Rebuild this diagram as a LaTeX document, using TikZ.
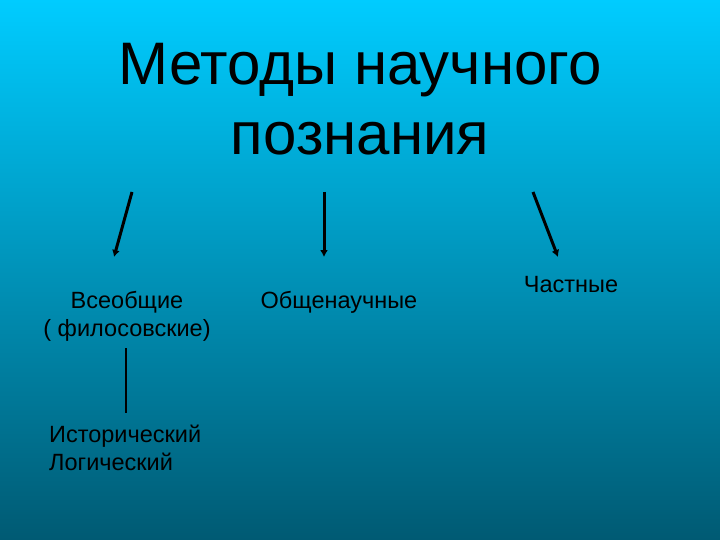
\documentclass[tikz,border=0pt]{standalone}
\usepackage{fontspec}
\setmainfont{Liberation Sans}
\usetikzlibrary{arrows.meta}

\definecolor{skytop}{RGB}{0,204,255}
\definecolor{seamid}{RGB}{0,160,200}
\definecolor{seabottom}{RGB}{0,90,115}

\begin{document}
\begin{tikzpicture}[x=1pt, y=-1pt,
  label/.style={inner sep=0pt, anchor=base, font=\fontsize{23.5}{28}\selectfont},
  branch/.style={line width=3pt, -{Latex[length=7pt,width=8pt]}}]
\shade[top color=skytop, middle color=seamid, bottom color=seabottom] (0,0) rectangle (720,540);
\useasboundingbox (0,0) rectangle (720,540);
\node[inner sep=0pt, anchor=base, align=center, font=\fontsize{60}{70}\selectfont] (title) at (360,155) {Методы научного\\познания};
\node[label, align=center] (vseob) at (127,336) {Всеобщие\\( филосовские)};
\node[label] (obsh) at (339,308) {Общенаучные};
\node[label] (chast) at (571,292) {Частные};
\node[label, align=left, anchor=base west] (hist) at (49,470) {Исторический\\Логический};
\coordinate (a1) at (132,192); \coordinate (b1) at (114,257);
\coordinate (a2) at (324,192); \coordinate (b2) at (324,257);
\coordinate (a3) at (533,192); \coordinate (b3) at (558,257);
\path [draw=black] (a1) edge[branch] (b1);
\path [draw=black] (a2) edge[branch] (b2);
\path [draw=black] (a3) edge[branch] (b3);
\coordinate (c1) at (126,348); \coordinate (d1) at (126,413);
\path [-, line width=2pt, draw=black] (c1) edge (d1);
\end{tikzpicture}
\end{document}
